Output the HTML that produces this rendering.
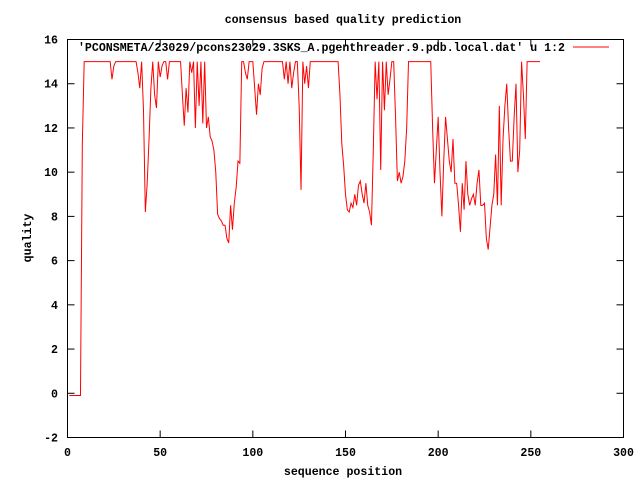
<!DOCTYPE html>
<html><head><meta charset="utf-8"><style>
body{margin:0;background:#fff}
svg text{font-family:"Liberation Mono",monospace;font-size:11.6px;font-weight:bold;fill:#000}
</style></head><body>
<svg id="chart" width="640" height="480" viewBox="0 0 640 480" xmlns="http://www.w3.org/2000/svg">
<rect width="640" height="480" fill="#fff"/>
<text x="343" y="23" text-anchor="middle">consensus based quality prediction</text>
<text x="343" y="475" text-anchor="middle">sequence position</text>
<text x="0" y="0" text-anchor="middle" transform="translate(31,238) rotate(-90)">quality</text>
<g id="axes"></g>
<g id="plot"></g>
<text x="565" y="51" text-anchor="end">'PCONSMETA/23029/pcons23029.3SKS_A.pgenthreader.9.pdb.local.dat' u 1:2</text>
<line x1="573" y1="47" x2="609" y2="47" stroke="#f00" stroke-width="1"/>
<rect x="67.5" y="39.5" width="556" height="398" fill="none" stroke="#000" stroke-width="1"/>
</svg>
<script>
const xTicks=[0,50,100,150,200,250,300];
const yTicks=[-2,0,2,4,6,8,10,12,14,16];
const quality=[
-0.1,-0.1,-0.1,-0.1,-0.1,-0.1,-0.1,11.3,15,15,
15,15,15,15,15,15,15,15,15,15,
15,15,15,14.2,14.8,15,15,15,15,15,
15,15,15,15,15,15,15,14.5,13.8,15,
12.8,8.2,9.5,11.5,13.8,15,13.5,12.9,15,14.3,
14.8,15,15,14.2,15,15,15,15,15,15,
15,13.5,12.1,13.8,12.7,15,14.5,15,12,15,
13,15,12.2,15,12,12.5,11.6,11.4,11,10,
8.1,7.9,7.8,7.6,7.6,7,6.8,8.5,7.4,8.6,
9.3,10.5,10.4,15,15,14.5,14.2,15,15,15,
13.8,12.6,14,13.5,14.7,15,15,15,15,15,
15,15,15,15,15,15,14.2,15,14,15,
13.8,14.5,15,15,13,9.2,15,14,14.8,13.8,
15,15,15,15,15,15,15,15,15,15,
15,15,15,15,15,15,13.5,11.3,10.3,9,
8.3,8.2,8.6,8.4,9,8.5,9.4,9.6,9,8.6,
9.5,8.5,8.2,7.6,11,15,13.3,15,10.1,15,
12.8,15,13.5,14.2,15,15,12.5,9.6,10,9.5,
9.8,10.5,12,15,15,15,15,15,15,15,
15,15,15,15,15,15,12,9.5,11,12.5,
10,8,10.5,12.5,11.5,10.5,10,11.5,9.5,9.5,
8.5,7.3,9.5,8.3,10.5,9,8.5,8.8,9,8.5,
9.5,10.1,8.5,8.5,8.6,7,6.5,7.5,8.5,9,
10.8,8.5,13,8.5,11.5,13,14,12,10.5,10.5,
12.5,14,10,11,15,13.5,11.5,15,15,15,
15,15,15,15,15];
const X0=67.5,X1=623.5,Y0=437.5,Y1=39.5;
function sx(v){return X0+(v-0)/(300-0)*(X1-X0);}
function sy(v){return Y0-(v-(-2))/(16-(-2))*(Y0-Y1);}
const NS="http://www.w3.org/2000/svg";
const axes=document.getElementById('axes');
function mk(tag,attrs,parent){const e=document.createElementNS(NS,tag);for(const k in attrs)e.setAttribute(k,attrs[k]);parent.appendChild(e);return e;}
xTicks.forEach(t=>{
  const x=sx(t);
  const a=mk('line',{x1:x,y1:Y0,x2:x,y2:Y0-7,stroke:'#000'},axes);
  
  
  const b=mk('line',{x1:x,y1:Y1,x2:x,y2:Y1+7,stroke:'#000'},axes);
  
  
  const l=mk('text',{x:x,y:456,'text-anchor':'middle'},axes);
  l.textContent=t;
  
  
});
yTicks.forEach(t=>{
  const y=sy(t);
  const a=mk('line',{x1:X0,y1:y,x2:X0+7,y2:y,stroke:'#000'},axes);
  
  
  const b=mk('line',{x1:X1,y1:y,x2:X1-7,y2:y,stroke:'#000'},axes);
  
  
  const l=mk('text',{x:58,y:y+4,'text-anchor':'end'},axes);
  l.textContent=t;
  
  
});
const pts=quality.map((v,i)=>sx(i+1).toFixed(2)+','+sy(v).toFixed(2)).join(' ');
const line=mk('polyline',{points:pts,fill:'none',stroke:'#f00','stroke-width':1},document.getElementById('plot'));


</script>
</body></html>
